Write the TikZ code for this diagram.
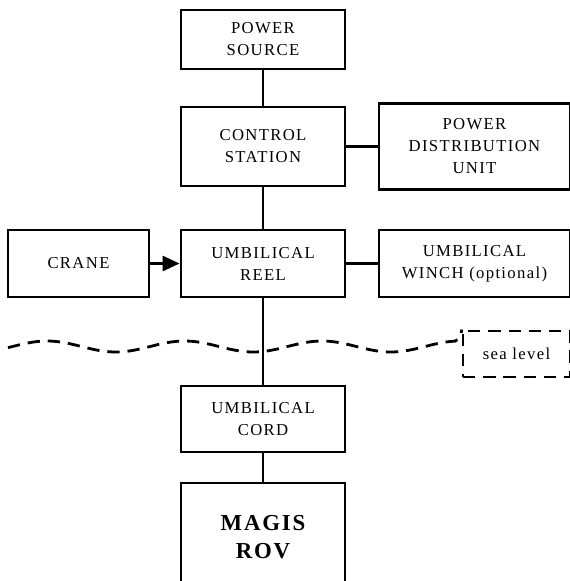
\documentclass[tikz,border=0pt]{standalone}
\usepackage{fontspec}
\setmainfont{Liberation Serif}
\newfontfamily\boxfont[LetterSpace=8]{Liberation Serif}
\usetikzlibrary{arrows.meta}

\begin{document}
\begin{tikzpicture}[
  unit/.style={draw, line width=1.6pt, inner sep=0pt, align=center,
    font=\boxfont\fontsize{9.5}{12.5}\selectfont},
  link/.style={line width=1.6pt},
  wave/.style={line width=1.6pt, dash pattern=on 7pt off 4.5pt},
]
\useasboundingbox (0,0) rectangle (11.4,-11.62);
\node[unit, minimum width=3.28cm, minimum height=1.18cm] (power) at (5.26,-0.79) {POWER\\SOURCE};
\node[unit, minimum width=3.28cm, minimum height=1.58cm] (control) at (5.26,-2.93) {CONTROL\\STATION};
\node[unit, minimum width=3.82cm, minimum height=1.72cm] (pdu) at (9.49,-2.93) {POWER\\DISTRIBUTION\\UNIT};
\node[unit, minimum width=2.82cm, minimum height=1.34cm] (crane) at (1.57,-5.27) {CRANE};
\node[unit, minimum width=3.28cm, minimum height=1.34cm] (reel) at (5.26,-5.27) {UMBILICAL\\REEL};
\node[unit, minimum width=3.82cm, minimum height=1.34cm] (winch) at (9.49,-5.27) {UMBILICAL\\WINCH (optional)};
\node[unit, wave, minimum width=2.14cm, minimum height=0.92cm] (sea) at (10.33,-7.08) {sea level};
\node[unit, minimum width=3.28cm, minimum height=1.32cm] (cord) at (5.26,-8.38) {UMBILICAL\\CORD};
\node[unit, minimum width=3.28cm, minimum height=2.16cm,
  font=\boxfont\bfseries\fontsize{13}{15.5}\selectfont] (rov) at (5.26,-10.74) {MAGIS\\ROV};
\draw[link] (power) -- (control);
\draw[link] (control) -- (reel);
\draw[link] (reel) -- (cord);
\draw[link] (cord) -- (rov);
\draw[link] (control) -- (pdu);
\draw[link] (reel) -- (winch);
\draw[link, -{Triangle[length=0.34cm, width=0.3cm]}] (crane) -- (reel);
\draw[wave] plot[domain=0.16:9.1, samples=80, smooth] (\x, {-6.93+0.11*cos(deg(2*pi*(\x-0.94)/2.75))})
  to[out=20, in=-90] (sea.north west);
\end{tikzpicture}
\end{document}
